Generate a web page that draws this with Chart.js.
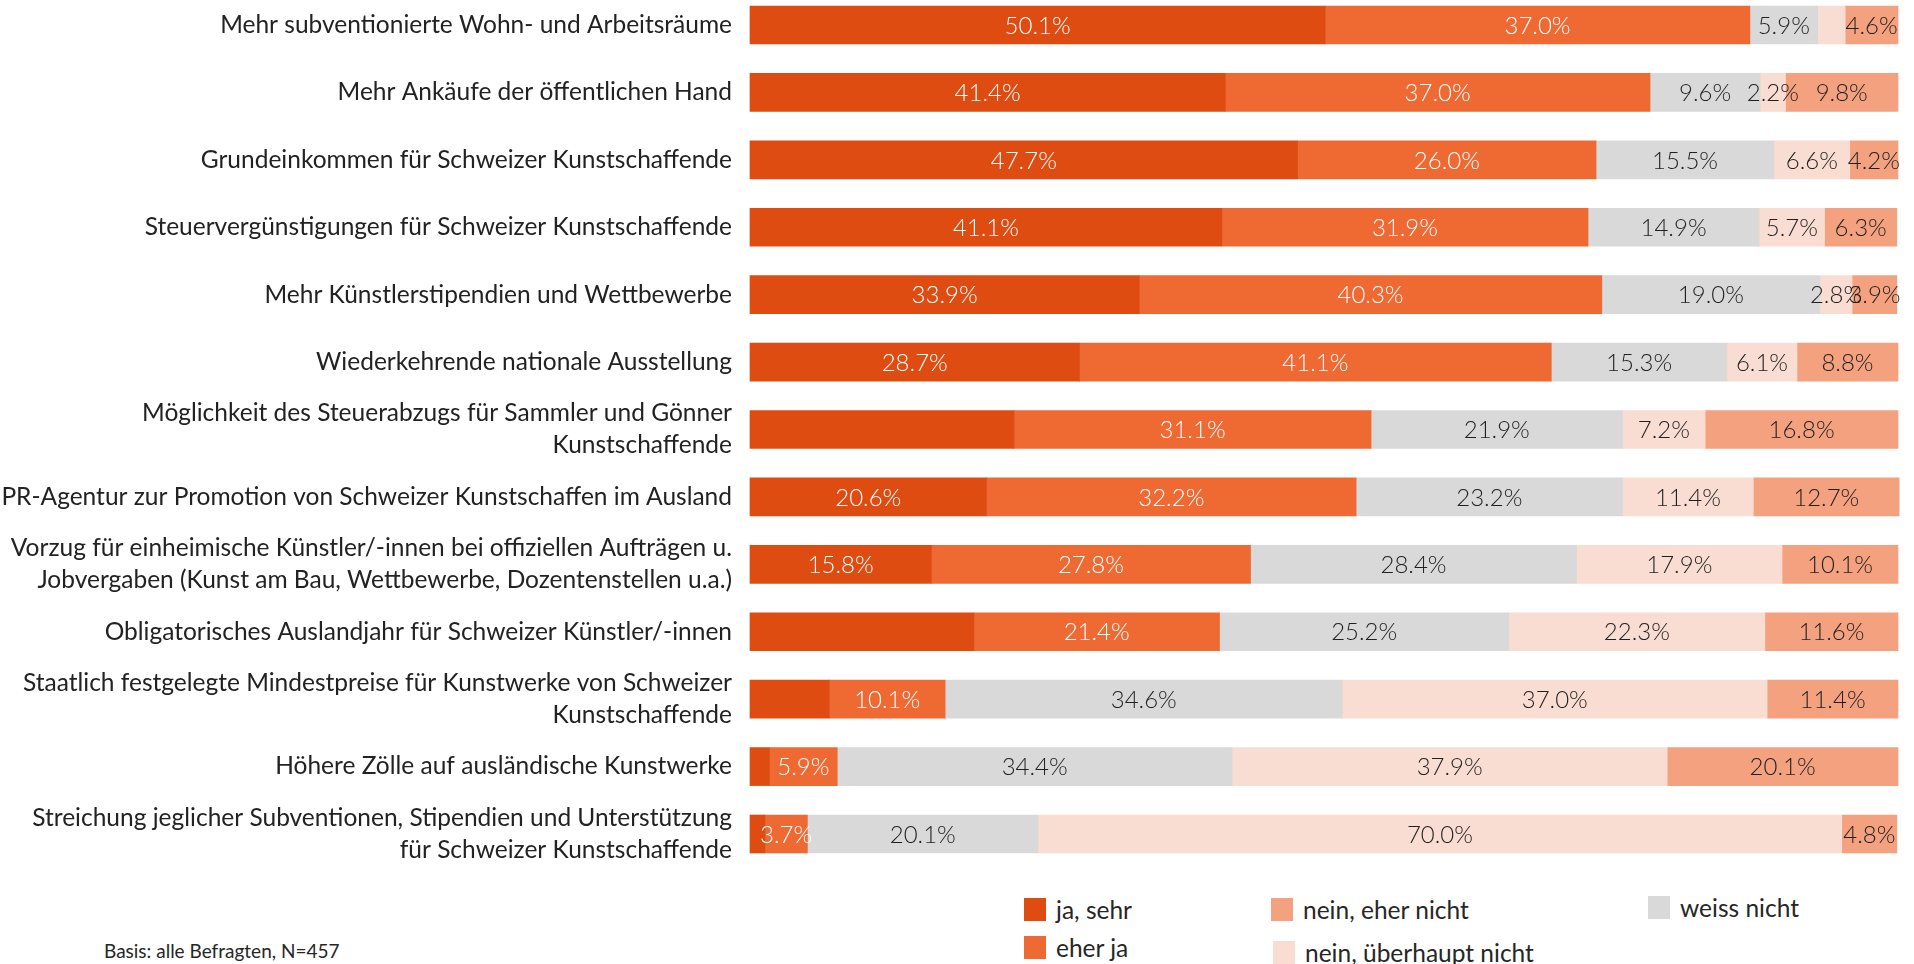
<!DOCTYPE html>
<html lang="de">
<head>
<meta charset="utf-8">
<title>Massnahmen zur Förderung von Schweizer Kunstschaffenden</title>
<script src="https://cdn.jsdelivr.net/npm/chart.js@4.4.1/dist/chart.umd.min.js"></script>
<style>
  html, body { margin: 0; padding: 0; background: #fff; }
  body {
    width: 1914px; height: 964px; position: relative; overflow: hidden;
    font-family: Lato, "Open Sans", sans-serif; font-weight: 400; color: #262626;
  }
  #wrap { position: absolute; left: 0; top: 0; width: 1914px; height: 880px; }
  .legend-item { position: absolute; display: flex; align-items: center; font-size: 24.5px; line-height: 23px; white-space: nowrap; }
  .legend-item .box { width: 22px; height: 23px; margin-right: 10px; flex: none; }
  #note { position: absolute; left: 104px; top: 940px; font-size: 19px; line-height: 22px; }
</style>
</head>
<body>
<div id="wrap"><canvas id="chart" width="1914" height="880"></canvas></div>
<div id="legend"></div>
<div id="note">Basis: alle Befragten, N=457</div>

<script>
// Massnahmen - horizontal 100% stacked bars

const categories = [
    'Mehr subventionierte Wohn- und Arbeitsräume',
    'Mehr Ankäufe der öffentlichen Hand',
    'Grundeinkommen für Schweizer Kunstschaffende',
    'Steuervergünstigungen für Schweizer Kunstschaffende',
    'Mehr Künstlerstipendien und Wettbewerbe',
    'Wiederkehrende nationale Ausstellung',
    ['Möglichkeit des Steuerabzugs für Sammler und Gönner', 'Kunstschaffende'],
    'PR-Agentur zur Promotion von Schweizer Kunstschaffen im Ausland',
    ['Vorzug für einheimische Künstler/-innen bei offiziellen Aufträgen u.', 'Jobvergaben (Kunst am Bau, Wettbewerbe, Dozentenstellen u.a.)'],
    'Obligatorisches Auslandjahr für Schweizer Künstler/-innen',
    ['Staatlich festgelegte Mindestpreise für Kunstwerke von Schweizer', 'Kunstschaffende'],
    'Höhere Zölle auf ausländische Kunstwerke',
    ['Streichung jeglicher Subventionen, Stipendien und Unterstützung', 'für Schweizer Kunstschaffende']
];

const jaSehr         = [50.1, 41.4, 47.7, 41.1, 33.9, 28.7, 23.0, 20.6, 15.8, 19.5, 6.9, 1.7, 1.3];
const eherJa         = [37.0, 37.0, 26.0, 31.9, 40.3, 41.1, 31.1, 32.2, 27.8, 21.4, 10.1, 5.9, 3.7];
const weissNicht     = [5.9, 9.6, 15.5, 14.9, 19.0, 15.3, 21.9, 23.2, 28.4, 25.2, 34.6, 34.4, 20.1];
const neinUeberhaupt = [2.4, 2.2, 6.6, 5.7, 2.8, 6.1, 7.2, 11.4, 17.9, 22.3, 37.0, 37.9, 70.0];
const neinEher       = [4.6, 9.8, 4.2, 6.3, 3.9, 8.8, 16.8, 12.7, 10.1, 11.6, 11.4, 20.1, 4.8];

// segments without a printed value in the original: [dataset, row]
const hiddenLabels = [[0, 6], [0, 9], [0, 10], [0, 11], [0, 12], [3, 0]];

const series = [
    { label: 'ja, sehr', data: jaSehr, color: '#DE4C12', text: '#ffffff' },
    { label: 'eher ja', data: eherJa, color: '#EF6933', text: '#ffffff' },
    { label: 'weiss nicht', data: weissNicht, color: '#D9D9D9', text: '#1f1f1f' },
    { label: 'nein, überhaupt nicht', data: neinUeberhaupt, color: '#FADDD2', text: '#1f1f1f' },
    { label: 'nein, eher nicht', data: neinEher, color: '#F4A17F', text: '#1f1f1f' }
];

const FONT = 'Lato, "Open Sans", sans-serif';

// Draw the percentage in the middle of each segment
const valueLabels = {
    id: 'valueLabels',
    afterDatasetsDraw(chart) {
        const ctx = chart.ctx;
        ctx.save();
        ctx.font = '300 24px ' + FONT;
        ctx.textAlign = 'center';
        ctx.textBaseline = 'middle';
        chart.data.datasets.forEach((ds, i) => {
            const meta = chart.getDatasetMeta(i);
            meta.data.forEach((bar, j) => {
                if (hiddenLabels.some(h => h[0] === i && h[1] === j)) return;
                ctx.fillStyle = series[i].text;
                ctx.fillText(ds.data[j].toFixed(1) + '%', (bar.x + bar.base) / 2, bar.y + 1);
            });
        });
        ctx.restore();
    }
};

const ctx = document.getElementById('chart').getContext('2d');
const chart = new Chart(ctx, {
    type: 'bar',
    data: {
        labels: categories,
        datasets: series.map(s => ({
            label: s.label,
            data: s.data,
            backgroundColor: s.color,
            borderWidth: 0,
            barThickness: 38,
            clip: false
        }))
    },
    options: {
        indexAxis: 'y',
        responsive: false,
        animation: false,
        devicePixelRatio: 1,
        layout: { padding: { left: 0, right: 16, top: 25, bottom: 46 } },
        plugins: {
            legend: { display: false },
            tooltip: { enabled: false },
            title: { display: false }
        },
        scales: {
            x: {
                stacked: true,
                display: false,
                min: 0,
                max: 100
            },
            y: {
                stacked: true,
                offset: false,
                grid: { display: false, drawTicks: false },
                border: { display: false },
                ticks: {
                    autoSkip: false,
                    padding: 18,
                    color: '#222222',
                    font: { family: FONT, size: 24.5, weight: '400', lineHeight: 1.3 }
                },
                afterFit(scale) {
                    scale.width = 750;
                    // keep the first and last rows at the padding edges
                    scale.paddingTop = 0;
                    scale.paddingBottom = 0;
                }
            }
        }
    },
    plugins: [valueLabels]
});

// Legend in three columns, like the original
const legendSpots = [
    { left: 1024, top: 898 },
    { left: 1024, top: 936 },
    { left: 1648, top: 896 },
    { left: 1273, top: 941 },
    { left: 1271, top: 898 }
];
const legendDiv = document.getElementById('legend');
series.forEach((s, i) => {
    const item = document.createElement('div');
    item.className = 'legend-item';
    item.style.left = legendSpots[i].left + 'px';
    item.style.top = legendSpots[i].top + 'px';
    item.innerHTML = `<span class="box" style="background:${s.color}"></span><span>${s.label}</span>`;
    legendDiv.appendChild(item);
});
</script>
</body>
</html>
